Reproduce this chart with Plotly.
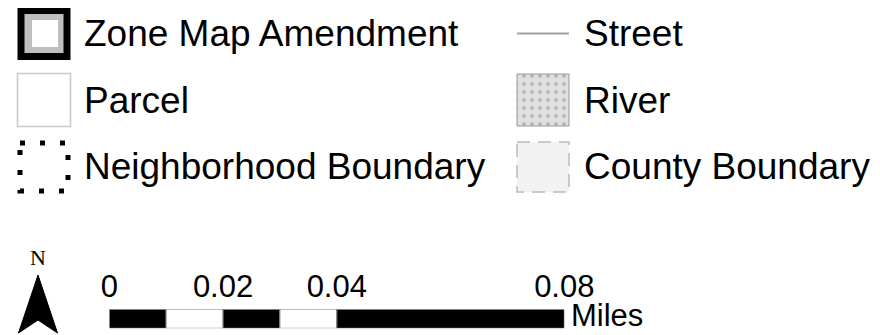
import plotly.graph_objects as go

# legend entries, laid out in two columns of three rows
left_labels = ["Zone Map Amendment", "Parcel", "Neighborhood Boundary"]
right_labels = ["Street", "River", "County Boundary"]

# scale bar, in miles
scale_breaks = [0, 0.01, 0.02, 0.03, 0.04, 0.08]
scale_colors = ["black", "white", "black", "white", "black"]
scale_ticks = [0, 0.02, 0.04, 0.08]
scale_ticktext = ["0", "0.02", "0.04", "0.08"]
scale_unit = "Miles"

OFF = 8  # page body margin, so axis units == screen pixels
W, H = 880 - 2 * OFF, 335 - OFF
FONT = "Arial, 'Liberation Sans', sans-serif"

col_x = [17.5, 517]
row_y = [33.5, 100, 166]
SW = 53          # swatch size
TXT_DX = 64.5    # swatch left -> label left

fig = go.Figure()
shapes = []


def box(cx, cy, size=SW):
    return cx, cy - size / 2, cx + size, cy + size / 2


def px_x(p):
    return (p - OFF) / W


def px_y(p):
    return 1 - (p - OFF) / H


# --- left column swatches
x0, y0, x1, y1 = box(col_x[0], row_y[0])
shapes.append(dict(type="rect", x0=x0 + 3.5, x1=x1 - 3.5, y0=y0 + 3.5, y1=y1 - 3.5,
                   fillcolor="#bfbfbf", line=dict(color="black", width=7)))
shapes.append(dict(type="rect", x0=x0 + 14.5, x1=x1 - 12.5, y0=y0 + 13, y1=y1 - 13,
                   fillcolor="white", line=dict(width=0)))

x0, y0, x1, y1 = box(col_x[0], row_y[1])
shapes.append(dict(type="rect", x0=x0, x1=x1, y0=y0, y1=y1,
                   fillcolor="white", line=dict(color="#c8c8c8", width=1.5)))

x0, y0, x1, y1 = box(col_x[0], row_y[2] + 1, 48)
shapes.append(dict(type="rect", x0=x0 + 2.5, x1=x1 + 2.5, y0=y0, y1=y1,
                   fillcolor="rgba(0,0,0,0)",
                   line=dict(color="black", width=5, dash="5px,15px")))

# --- right column swatches
shapes.append(dict(type="line", x0=col_x[1], x1=col_x[1] + 52, y0=row_y[0], y1=row_y[0],
                   line=dict(color="#a0a0a0", width=2)))

x0, y0, x1, y1 = box(col_x[1], row_y[1], 52)
fig.add_trace(go.Scatter(
    x=[x0, x1, x1, x0, x0], y=[y0, y0, y1, y1, y0], mode="lines", fill="toself",
    fillcolor="#e0e0e0", line=dict(color="#999999", width=1),
    fillpattern=dict(shape=".", fgcolor="#8a8a8a", bgcolor="#e0e0e0", size=8, solidity=0.18),
    hoverinfo="skip", showlegend=False, xaxis="x", yaxis="y"))

x0, y0, x1, y1 = box(col_x[1], row_y[2] + 1, 50)
shapes.append(dict(type="rect", x0=x0, x1=x0 + 52, y0=y0, y1=y1,
                   fillcolor="#f2f2f2", line=dict(color="#bbbbbb", width=1.5, dash="13px,8px")))

# north arrow
ax, ay = 38, 275
shapes.append(dict(type="path",
                   path=f"M {ax},{ay} L {ax + 19.5},{ay + 58} L {ax},{ay + 45} L {ax - 19.5},{ay + 58} Z",
                   fillcolor="black", line=dict(color="black", width=1)))

annotations = []
for labels, cx in ((left_labels, col_x[0]), (right_labels, col_x[1])):
    for lab, cy in zip(labels, row_y):
        annotations.append(dict(x=cx + TXT_DX, y=cy, xref="x", yref="y", text=lab,
                                showarrow=False, xanchor="left", yanchor="middle",
                                font=dict(family=FONT, size=37, color="black")))

annotations.append(dict(x=ax, y=257, xref="x", yref="y", text="N", showarrow=False,
                        font=dict(family="'Liberation Serif', 'Times New Roman', serif",
                                  size=22, color="black")))
annotations.append(dict(x=569, y=315, xref="x", yref="y", text=scale_unit,
                        showarrow=False, xanchor="left", yanchor="middle",
                        font=dict(family=FONT, size=31, color="black")))

# scale bar segments
fig.add_trace(go.Bar(
    x=[b - a for a, b in zip(scale_breaks[:-1], scale_breaks[1:])],
    base=scale_breaks[:-1], y=[0] * len(scale_colors), width=1, orientation="h",
    marker=dict(color=scale_colors, line=dict(color="#8a8a8a", width=1)),
    hoverinfo="skip", showlegend=False, xaxis="x2", yaxis="y2"))

fig.update_layout(
    width=W, height=H, margin=dict(l=0, r=0, t=0, b=0, autoexpand=False),
    paper_bgcolor="white", plot_bgcolor="rgba(0,0,0,0)",
    shapes=shapes, annotations=annotations,
    xaxis=dict(range=[OFF, W + OFF], visible=False, domain=[0, 1], fixedrange=True,
               automargin=False),
    yaxis=dict(range=[H + OFF, OFF], visible=False, domain=[0, 1], fixedrange=True,
               automargin=False),
    xaxis2=dict(range=[scale_breaks[0], scale_breaks[-1]], domain=[px_x(109.3), px_x(564.3)],
                anchor="y2", side="top", tickvals=scale_ticks, ticktext=scale_ticktext,
                ticks="", showgrid=False, zeroline=False, showline=False, automargin=False,
                ticklabelstandoff=5, tickfont=dict(family=FONT, size=31, color="black")),
    yaxis2=dict(range=[-0.5, 0.5], domain=[px_y(328.3), px_y(309.3)], anchor="x2",
                visible=False, automargin=False),
)

fig.write_html("out.html")
